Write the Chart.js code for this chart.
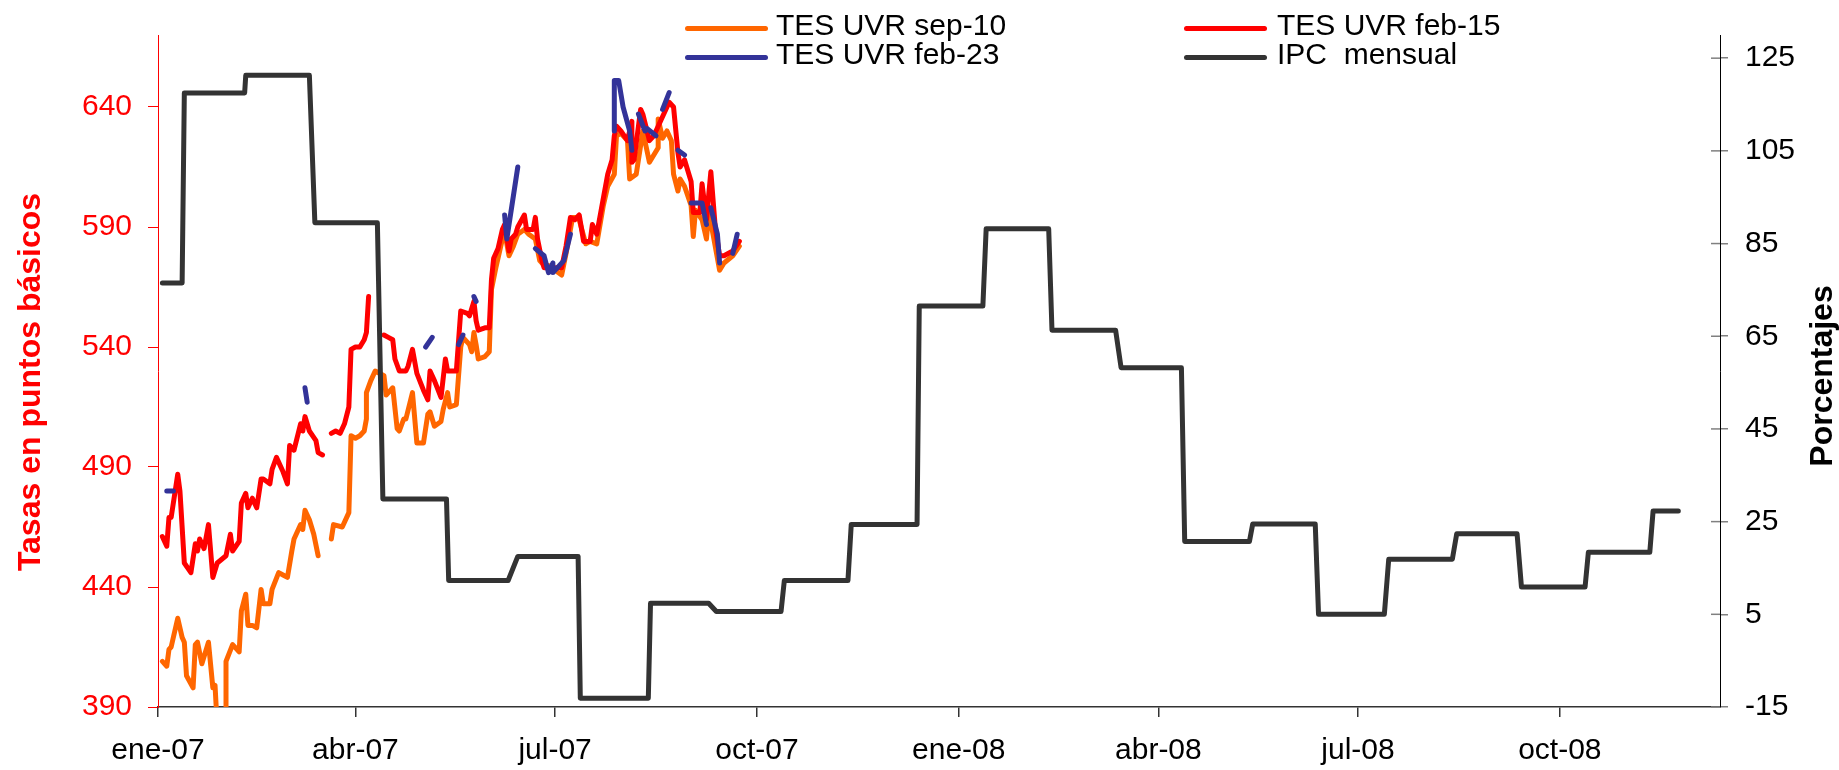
<!DOCTYPE html>
<html lang="es">
<head>
<meta charset="utf-8">
<title>TES UVR e IPC mensual</title>
<script src="https://cdn.jsdelivr.net/npm/chart.js@4.4.1/dist/chart.umd.min.js"></script>
<style>
  body { margin: 0; background: #fff; }
  #contenedor { position: relative; width: 1839px; height: 770px; }
  #grafico { position: absolute; left: 0; top: 0; }
  .leyenda-texto { position: absolute; font-family: 'Liberation Sans', Arial, sans-serif; font-size: 30px; line-height: 30px; color: #000; white-space: pre; }
  .leyenda-linea { position: absolute; width: 83px; height: 5px; border-radius: 3px; }
</style>
</head>
<body>
<div id="contenedor">
  <canvas id="grafico" width="1839" height="770"></canvas>
  <div id="leyenda"></div>
</div>
<script>
// Días contados desde el 1-ene-2007
const ticksX = [0, 90, 181, 273, 365, 456, 547, 639];
const etiquetasX = ['ene-07', 'abr-07', 'jul-07', 'oct-07', 'ene-08', 'abr-08', 'jul-08', 'oct-08'];
const ticksIzq = [390, 440, 490, 540, 590, 640];
const ticksDer = [-15, 5, 25, 45, 65, 85, 105, 125];

const nombresSeries = ['TES UVR sep-10', 'TES UVR feb-15', 'TES UVR feb-23', 'IPC  mensual'];
const coloresSeries = ['#FF6600', '#FF0000', '#333399', '#333333'];

// TES UVR sep-10 (puntos básicos)
const diasSep10 = [2,4,5,6,9,11,12,13,16,17,18,20,23,25,26,27,31,31,34,37,38,40,41,43,45,47,48,51,52,55,57,59,61,62,65,66,67,69,71,73,76,79,80,84,87,88,90,92,94,95,95,97,99,103,104,105,107,109,110,112,113,116,118,121,123,124,126,129,130,132,133,136,138,139,142,143,144,145,146,149,151,152,154,157,158,160,162,164,167,169,172,174,176,178,184,186,189,191,192,195,197,200,203,205,208,209,211,214,215,218,221,224,228,228,230,232,234,235,237,238,240,243,244,245,248,250,251,253,256,258,262,265];
const tesSep10 = [409,407,414,415,427,419,417,403,398,416,417,408,417,398,399,382,382,409,416,413,430,437,424,424,423,439,433,433,439,446,445,444,455,460,466,464,472,468,462,453,null,460,466,465,471,503,502,503,505,510,521,526,530,528,520,521,523,506,505,510,510,521,500,500,512,513,507,509,514,521,515,516,540,544,541,538,546,541,535,536,538,564,573,585,588,578,582,587,589,587,585,576,574,574,570,579,594,594,593,583,584,583,599,607,612,628,629,626,610,612,630,617,623,635,627,630,626,612,605,610,607,599,586,597,593,585,596,587,572,575,578,582];

// TES UVR feb-15
const diasFeb15 = [2,4,5,6,9,10,12,15,17,18,19,21,23,25,27,31,33,34,37,38,40,41,43,45,47,48,51,52,54,57,59,60,62,65,66,67,69,72,73,75,77,79,81,83,85,87,88,90,92,94,95,96,99,103,105,107,108,110,113,114,116,118,121,123,124,126,129,131,132,136,138,141,142,144,145,146,149,151,152,153,155,157,158,160,161,163,164,167,168,171,172,173,175,176,180,184,186,188,190,192,194,197,198,200,202,205,207,208,209,211,214,216,216,217,219,220,221,224,226,233,235,237,238,240,243,244,247,248,250,252,254,256,258,262,265];
const tesFeb15 = [461,457,469,469,487,480,450,446,458,455,460,456,466,444,450,453,462,455,459,475,479,473,477,473,485,485,483,489,494,488,483,499,497,508,505,511,505,501,496,495,null,504,505,504,508,515,539,540,540,543,546,561,null,545,544,543,535,530,530,532,539,529,522,518,530,526,519,535,530,530,555,554,553,559,551,547,548,548,568,577,581,589,591,580,585,587,590,595,589,589,594,585,576,573,573,573,582,594,593,595,584,584,591,587,597,612,618,628,632,630,626,634,617,618,632,639,637,626,628,642,640,621,615,618,609,596,596,608,593,613,590,578,578,580,584];

// TES UVR feb-23 (serie con muchos huecos)
const diasFeb23 = [4,7,10,67,68,90,122,125,130,137,139,141,144,145,150,158,159,164,168,172,176,178,180,180,185,188,198,208,208,210,212,215,216,218,219,222,223,227,228,230,233,235,237,240,242,243,248,250,251,252,255,256,259,262,264];
const tesFeb23 = [480,480,null,523,517,null,540,544,null,541,545,null,561,559,null,595,585,615,null,581,578,571,575,571,576,587,null,630,651,651,640,630,622,null,637,630,631,628,null,639,646,null,622,620,null,600,600,591,null,598,587,575,null,579,587];

// IPC mensual (%), cada nivel entre un día de inicio y uno de fin
const ipcInicio = [2,12,40,71.5,102.5,132.5,164,192.5,224.5,254.5,285.5,316,347,377.5,407.5,439,468,499,529,561,592,621.5,652,681.5];
const ipcFin    = [11,39.5,69,100,131.5,159.6,191.5,223.5,251,284,314.5,346,376,406,436.5,466.5,497.5,527.5,559,590,619.5,650.5,680,693];
const ipcValor  = [76.5,117.5,121.3,89.5,29.9,12.3,17.5,-13.1,7.4,5.6,12.3,24.4,71.5,88.2,66.3,58.2,20.7,24.5,5.0,16.9,22.4,10.9,18.4,27.3];

const fuente = "'Liberation Sans', Arial, sans-serif";

function puntos(dias, valores) {
    return dias.map((d, i) => ({ x: d, y: valores[i] }));
}

function escalones(inicio, fin, valores) {
    const p = [];
    valores.forEach((v, i) => {
        p.push({ x: inicio[i], y: v }, { x: fin[i], y: v });
    });
    return p;
}

// Leyenda en HTML: dos columnas, dos filas
const posLeyenda = [
    { linea: 685, texto: 776, fila: 0 },
    { linea: 1184, texto: 1277, fila: 0 },
    { linea: 685, texto: 776, fila: 1 },
    { linea: 1184, texto: 1277, fila: 1 }
];
const leyenda = document.getElementById('leyenda');
nombresSeries.forEach((nombre, i) => {
    const p = posLeyenda[i];
    const linea = document.createElement('div');
    linea.className = 'leyenda-linea';
    linea.style.left = p.linea + 'px';
    linea.style.top = (25.5 + p.fila * 29) + 'px';
    linea.style.background = coloresSeries[i];
    const texto = document.createElement('div');
    texto.className = 'leyenda-texto';
    texto.style.left = p.texto + 'px';
    texto.style.top = (10 + p.fila * 29) + 'px';
    texto.textContent = nombre;
    leyenda.appendChild(linea);
    leyenda.appendChild(texto);
});

// Marcas del eje derecho que cruzan la línea del eje
const marcasCruzadas = {
    id: 'marcasCruzadas',
    afterDraw(chart) {
        const s = chart.scales.y2;
        const c = chart.ctx;
        c.save();
        c.strokeStyle = '#808080';
        c.lineWidth = 1.5;
        s.ticks.forEach(t => {
            const y = s.getPixelForValue(t.value);
            c.beginPath();
            c.moveTo(s.left - 9, y);
            c.lineTo(s.left, y);
            c.stroke();
        });
        c.restore();
    }
};

// Títulos de ambos ejes, leídos de abajo hacia arriba
const titulosEjes = {
    id: 'titulosEjes',
    afterDraw(chart) {
        const c = chart.ctx;
        const a = chart.chartArea;
        const medio = (a.top + a.bottom) / 2;
        c.save();
        c.font = 'bold 32px ' + fuente;
        c.textAlign = 'center';
        c.textBaseline = 'alphabetic';

        c.save();
        c.translate(39.5, medio + 11);
        c.rotate(-Math.PI / 2);
        c.fillStyle = '#FF0000';
        c.fillText('Tasas en puntos básicos', 0, 0);
        c.restore();

        c.save();
        c.translate(chart.width - 7, medio + 5);
        c.rotate(-Math.PI / 2);
        c.fillStyle = '#000000';
        c.fillText('Porcentajes', 0, 0);
        c.restore();

        c.restore();
    }
};

const ctx = document.getElementById('grafico').getContext('2d');
new Chart(ctx, {
    type: 'line',
    data: {
        datasets: [
            { label: nombresSeries[0], data: puntos(diasSep10, tesSep10), borderColor: coloresSeries[0], yAxisID: 'y', order: 4 },
            { label: nombresSeries[1], data: puntos(diasFeb15, tesFeb15), borderColor: coloresSeries[1], yAxisID: 'y', order: 3 },
            { label: nombresSeries[2], data: puntos(diasFeb23, tesFeb23), borderColor: coloresSeries[2], yAxisID: 'y', order: 2 },
            { label: nombresSeries[3], data: escalones(ipcInicio, ipcFin, ipcValor), borderColor: coloresSeries[3], yAxisID: 'y2', order: 1 }
        ]
    },
    options: {
        responsive: false,
        animation: false,
        events: [],
        layout: { padding: { top: 34, left: 0, right: 0, bottom: 0 } },
        elements: {
            point: { radius: 0 },
            line: { borderWidth: 5, tension: 0, borderCapStyle: 'round', borderJoinStyle: 'round', fill: false }
        },
        datasets: { line: { clip: 0, spanGaps: false } },
        plugins: { legend: { display: false }, tooltip: { enabled: false } },
        scales: {
            x: {
                type: 'linear',
                min: 0,
                max: 712,
                afterBuildTicks: s => { s.ticks = ticksX.map(v => ({ value: v })); },
                afterFit: s => { s.height = 63; },
                ticks: {
                    autoSkip: false, maxRotation: 0, minRotation: 0,
                    padding: 16,
                    color: '#000',
                    font: { family: fuente, size: 30 },
                    callback: v => etiquetasX[ticksX.indexOf(v)]
                },
                grid: { drawOnChartArea: false, tickLength: 10, color: '#333', lineWidth: 1.5 },
                border: { color: '#333', width: 1.5 }
            },
            y: {
                position: 'left',
                min: 390,
                max: 670,
                afterBuildTicks: s => { s.ticks = ticksIzq.map(v => ({ value: v })); },
                afterFit: s => { s.width = 158; },
                ticks: { padding: 16, color: '#FF0000', font: { family: fuente, size: 30 } },
                grid: { drawOnChartArea: false, tickLength: 10, color: '#FF0000', lineWidth: 1 },
                border: { color: '#FF0000', width: 1 }
            },
            y2: {
                position: 'right',
                min: -15,
                max: 130,
                afterBuildTicks: s => { s.ticks = ticksDer.map(v => ({ value: v })); },
                afterFit: s => { s.width = 119; },
                ticks: { padding: 17, color: '#000', font: { family: fuente, size: 30 } },
                grid: { drawOnChartArea: false, tickLength: 8, color: '#808080', lineWidth: 1.5 },
                border: { color: '#000', width: 1 }
            }
        }
    },
    plugins: [marcasCruzadas, titulosEjes]
});
</script>
</body>
</html>
